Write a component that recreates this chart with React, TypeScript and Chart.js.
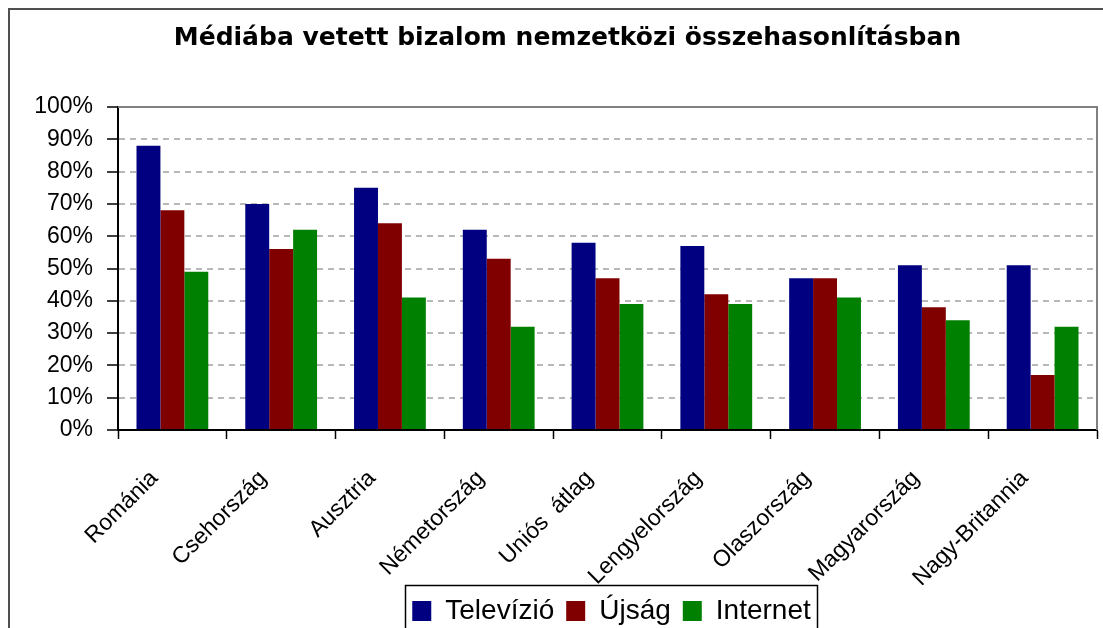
import React, { useEffect, useRef } from 'react';
import { Chart, registerables } from 'chart.js';

Chart.register(...registerables);

const chartTitle = 'Médiába vetett bizalom nemzetközi összehasonlításban';
const categories = [
  'Románia',
  'Csehország',
  'Ausztria',
  'Németország',
  'Uniós  átlag',
  'Lengyelország',
  'Olaszország',
  'Magyarország',
  'Nagy-Britannia',
];
const seriesNames = ['Televízió', 'Újság', 'Internet'];
const televizio = [88, 70, 75, 62, 58, 57, 47, 51, 51];
const ujsag = [68, 56, 64, 53, 47, 42, 47, 38, 17];
const internet = [49, 62, 41, 32, 39, 39, 41, 34, 32];
const seriesColors = ['#000080', '#800000', '#008000'];
const yMin = 0;
const yMax = 100;
const yStep = 10;

const TITLE_SHIFT_X = 14;
const LEGEND_SHIFT_X = 58;

const sans = "'Liberation Sans', Arial, sans-serif";

const framePlugin = {
  id: 'framePlugin',
  afterLayout(chart: any) {
    const t = chart.titleBlock;
    if (t) {
      t.left += TITLE_SHIFT_X;
      t.right += TITLE_SHIFT_X;
    }
    const l = chart.legend;
    if (l) {
      l.left += LEGEND_SHIFT_X;
      l.right += LEGEND_SHIFT_X;
    }
  },
  beforeDraw(chart: any) {
    const ctx = chart.ctx;
    ctx.save();
    ctx.fillStyle = '#ffffff';
    ctx.fillRect(0, 0, chart.width, chart.height);
    ctx.fillStyle = '#505050';
    ctx.fillRect(8, 8, 2, chart.height);
    ctx.fillRect(8, 8, chart.width, 2);
    ctx.restore();
  },
  afterDraw(chart: any) {
    const ctx = chart.ctx;
    const ca = chart.chartArea;
    ctx.save();
    ctx.strokeStyle = '#808080';
    ctx.lineWidth = 2;
    ctx.beginPath();
    ctx.moveTo(ca.left, ca.top);
    ctx.lineTo(ca.right, ca.top);
    ctx.lineTo(ca.right, ca.bottom);
    ctx.stroke();
    const hb = chart.legend && chart.legend.legendHitBoxes;
    if (hb && hb.length) {
      const first = hb[0];
      const last = hb[hb.length - 1];
      const left = Math.round(first.left - 7);
      const right = Math.round(last.left + last.width + 6);
      ctx.strokeStyle = '#000000';
      ctx.lineWidth = 1.5;
      ctx.strokeRect(left + 0.5, 585.5, right - left, 80);
    }
    ctx.restore();
  },
};

export default function App() {
  const canvasRef = useRef<HTMLCanvasElement | null>(null);

  useEffect(() => {
    const canvas = canvasRef.current;
    if (!canvas) return;
    const dataSeries = [televizio, ujsag, internet];
    const chart = new Chart(canvas, {
      type: 'bar',
      data: {
        labels: categories,
        datasets: dataSeries.map((values, i) => ({
          label: seriesNames[i],
          data: values,
          backgroundColor: seriesColors[i],
          borderWidth: 0,
          categoryPercentage: 0.66,
          barPercentage: 1.0,
        })),
      },
      options: {
        responsive: false,
        animation: false,
        color: '#000',
        layout: { padding: { top: 10, left: 10, right: 6, bottom: -7 } },
        plugins: {
          tooltip: { enabled: false },
          title: {
            display: true,
            text: chartTitle,
            color: '#000',
            font: { family: "'DejaVu Sans', Verdana, sans-serif", size: 25, weight: 'bold' },
            padding: { top: 13, bottom: 54 },
          },
          legend: {
            display: true,
            position: 'bottom',
            labels: {
              color: '#000',
              font: { family: sans, size: 28 },
              boxWidth: 19,
              boxHeight: 20,
              padding: 12,
            },
          },
        },
        scales: {
          x: {
            offset: true,
            afterFit: (scale: any) => {
              scale.height = 155;
            },
            grid: {
              offset: true,
              drawOnChartArea: false,
              drawTicks: true,
              tickLength: 9,
              tickColor: '#000',
              tickWidth: 1.5,
            },
            border: { display: true, color: '#000', width: 2 },
            ticks: {
              color: '#000',
              font: { family: sans, size: 23 },
              maxRotation: 45,
              minRotation: 45,
              autoSkip: false,
              labelOffset: -18,
              padding: 26,
            },
          },
          y: {
            min: yMin,
            max: yMax,
            afterFit: (scale: any) => {
              scale.width = 108;
            },
            grid: {
              drawOnChartArea: true,
              color: (ctx: any) =>
                ctx.tick && (ctx.tick.value === yMin || ctx.tick.value === yMax)
                  ? 'rgba(0,0,0,0)'
                  : '#b8b8b8',
              lineWidth: 2,
              drawTicks: true,
              tickLength: 11,
              tickColor: '#000',
              tickWidth: 1.5,
            },
            border: { display: true, color: '#000', width: 2, dash: [6, 5] },
            ticks: {
              stepSize: yStep,
              color: '#000',
              font: { family: sans, size: 23 },
              padding: 14,
              callback: (v: any) => `${v}%`,
            },
          },
        },
      },
      plugins: [framePlugin],
    });
    return () => chart.destroy();
  }, []);

  return (
    <div style={{ position: 'fixed', left: 0, top: 0, width: 1103, height: 628, overflow: 'hidden', background: '#fff' }}>
      <canvas ref={canvasRef} width={1103} height={628} style={{ display: 'block' }} />
    </div>
  );
}
